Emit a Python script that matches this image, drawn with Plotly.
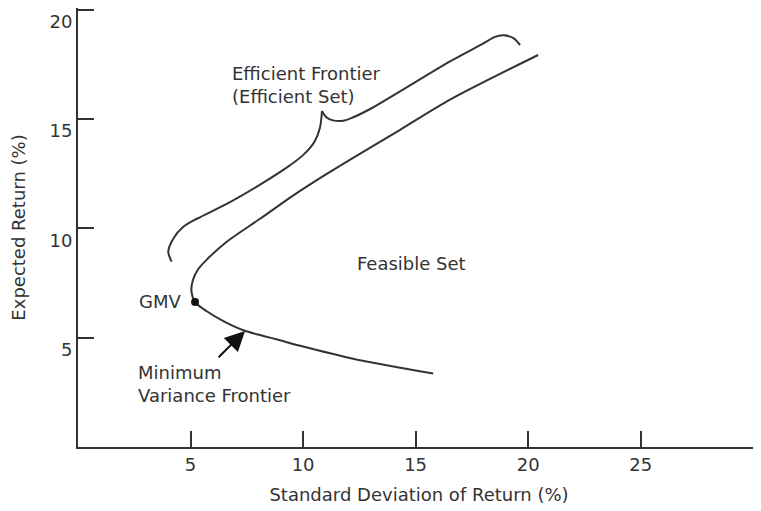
import plotly.graph_objects as go

# Minimum variance frontier (std dev %, expected return %)
frontier_sd = [15.78, 12.22, 9.87, 8.98, 8.24, 7.35, 6.46, 5.72, 5.2, 5.04, 5.1, 5.33, 5.7, 6.61, 8.09, 9.57, 11.05, 12.24, 14.31, 16.53, 20.44]
frontier_ret = [3.36, 4.04, 4.63, 4.88, 5.08, 5.34, 5.76, 6.21, 6.63, 7.12, 7.62, 8.12, 8.55, 9.39, 10.44, 11.51, 12.49, 13.24, 14.51, 15.89, 17.93]

# Curly brace marking the efficient frontier (left arm up to the tip, right arm from the tip)
brace_left_sd = [4.16, 4.01, 4.24, 4.68, 5.28, 6.61, 8.09, 9.3, 10.0, 10.5, 10.75, 10.84]
brace_left_ret = [8.48, 8.93, 9.54, 10.07, 10.44, 11.12, 12.0, 12.8, 13.35, 13.95, 14.6, 15.37]
brace_right_sd = [10.84, 11.02, 11.33, 11.78, 12.18, 12.98, 16.53, 18.01, 18.5, 18.9, 19.35, 19.64]
brace_right_ret = [15.37, 15.1, 14.94, 14.92, 15.06, 15.46, 17.64, 18.46, 18.75, 18.83, 18.7, 18.38]

gmv_sd = [5.2]
gmv_ret = [6.63]

x_ticks = [5, 10, 15, 20, 25]
y_ticks = [5, 10, 15, 20]

INK = "#333333"
FONT = "DejaVu Sans"

fig = go.Figure()
line_style = dict(color=INK, width=2, shape="spline", smoothing=0.8)
fig.add_trace(go.Scatter(x=frontier_sd, y=frontier_ret, mode="lines", line=line_style,
                         hoverinfo="skip", showlegend=False))
fig.add_trace(go.Scatter(x=brace_left_sd, y=brace_left_ret, mode="lines", line=line_style,
                         hoverinfo="skip", showlegend=False))
fig.add_trace(go.Scatter(x=brace_right_sd, y=brace_right_ret, mode="lines", line=line_style,
                         hoverinfo="skip", showlegend=False))
fig.add_trace(go.Scatter(x=gmv_sd, y=gmv_ret, mode="markers",
                         marker=dict(color="#111111", size=8),
                         hoverinfo="skip", showlegend=False))

tf = dict(family=FONT, size=18, color=INK)
fig.add_annotation(x=6.76, y=16.55, xref="x", yref="y", text="Efficient Frontier<br>(Efficient Set)",
                   showarrow=False, xanchor="left", yanchor="middle", align="left", font=tf)
fig.add_annotation(x=12.31, y=8.39, xref="x", yref="y", text="Feasible Set",
                   showarrow=False, xanchor="left", yanchor="middle", font=tf)
fig.add_annotation(x=4.67, y=6.67, xref="x", yref="y", text="GMV",
                   showarrow=False, xanchor="right", yanchor="middle", font=tf)
fig.add_annotation(x=2.58, y=2.9, xref="x", yref="y", text="Minimum<br>Variance Frontier",
                   showarrow=False, xanchor="left", yanchor="middle", align="left", font=tf)
fig.add_annotation(x=7.42, y=5.31, ax=6.18, ay=4.04, xref="x", yref="y", axref="x", ayref="y",
                   text="", showarrow=True, arrowhead=2, arrowsize=2, arrowwidth=2, arrowcolor="#111111")

# The page has an 8px body margin, so the figure is sized to the visible area.
fig.update_layout(
    width=753, height=503,
    margin=dict(l=70, r=1, t=0, b=64),
    paper_bgcolor="white", plot_bgcolor="white",
    font=dict(family=FONT, size=18, color=INK),
    xaxis=dict(range=[0, 30.3], tickvals=x_ticks, ticks="inside", ticklen=16, tickwidth=2,
               tickcolor=INK, showline=True, linecolor=INK, linewidth=2, showgrid=False,
               zeroline=False, automargin=False, tickfont=dict(family=FONT, size=18, color=INK),
               title=dict(text="Standard Deviation of Return (%)", standoff=15,
                          font=dict(family=FONT, size=18, color=INK))),
    yaxis=dict(range=[0, 20.08], tickvals=y_ticks, ticks="inside", ticklen=16, tickwidth=2,
               tickcolor=INK, showline=True, linecolor=INK, linewidth=2, showgrid=False,
               zeroline=False, automargin=False, ticklabelshift=12, ticklabeloverflow="allow",
               tickfont=dict(family=FONT, size=18, color=INK),
               title=dict(text="Expected Return (%)", standoff=19,
                          font=dict(family=FONT, size=18, color=INK))),
)

fig.write_html("out.html")
